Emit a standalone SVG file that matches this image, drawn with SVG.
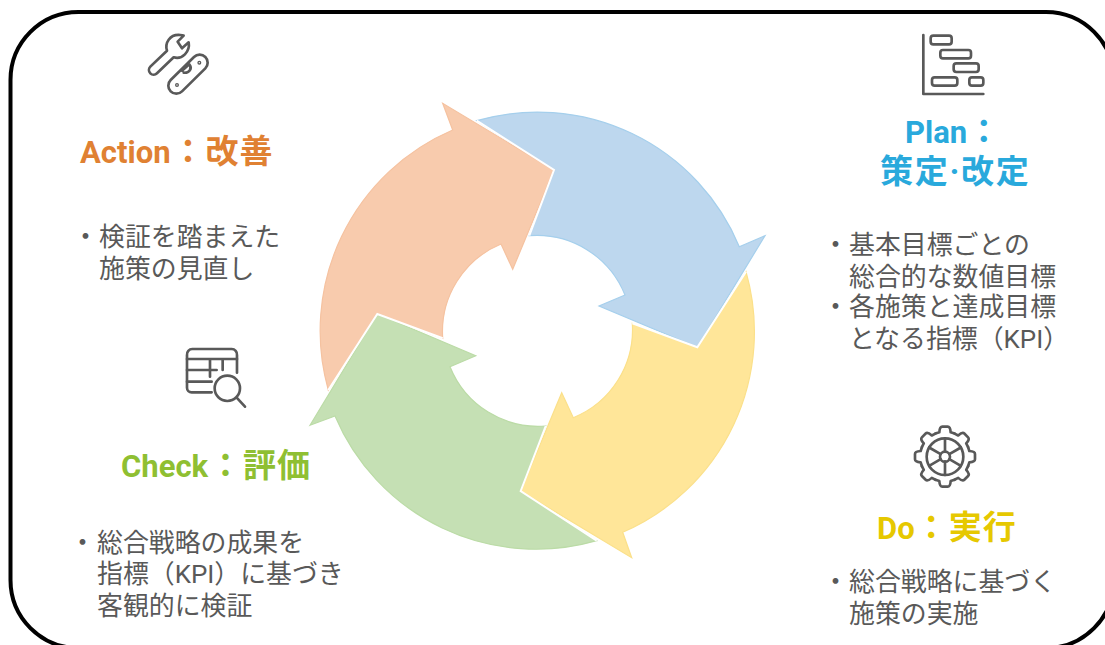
<svg xmlns="http://www.w3.org/2000/svg" xmlns:xlink="http://www.w3.org/1999/xlink" width="1105" height="645" viewBox="0 0 1105 645">
<style>
text{font-family:Roboto,"Noto Sans CJK JP",sans-serif}
.t{font-size:31px;font-weight:700}
.c{font-size:33px;letter-spacing:1px}
.b{font-size:25.9px;fill:#595959}
.bl{font-size:27px;fill:#595959;font-family:"Noto Sans CJK JP",sans-serif}
.i{fill:none;stroke:#595959;stroke-width:8;stroke-linecap:round;stroke-linejoin:round}
.a{stroke-width:1.2;stroke-linejoin:miter}
.seam{fill:none;stroke:#fff;stroke-width:2;stroke-linejoin:miter}
</style>
<defs>
<path id="tooth" d="M-28.7 -69.3L-17 -73Q-16 -90 -8 -90H8Q16 -90 17 -73L28.7 -69.3"/>
</defs>
<rect id="frame" x="10.5" y="12" width="1103.5" height="636" rx="68" ry="68" fill="#fff" stroke="#000" stroke-width="4"/>
<g id="connectors">
<path id="arrow-plan" class="a" fill="#BDD7EE" stroke="#A5CFEC" d="M476.7 120.7A218.5 218.5 0 0 1 739.3 246.7L765 235.7L697.3 347.3L599 306L625 295A95 95 0 0 0 529.3 235.7L554 170Z"/>
<path id="arrow-action" class="a" fill="#F8CBAD" stroke="#F5C2A0" d="M328.3 390A218.5 218.5 0 0 1 452.7 130L442.7 103.3L554 170L512.7 269.3L501 244A95 95 0 0 0 442.7 338.3L377.3 314Z"/>
<path id="arrow-check" class="a" fill="#C5E0B4" stroke="#BBDBA6" d="M310 425.3L335 416A218.5 218.5 0 0 0 596.7 540.7L520.7 491L545.7 426A95 95 0 0 1 450 366.7L475.7 355.7L377.3 314Z"/>
<path id="arrow-do" class="a" fill="#FFE699" stroke="#FBE08A" d="M746 271.7A218.5 218.5 0 0 1 622.7 532.3L631.7 557.7L520.7 491L561.7 392.7L573.3 417.7A95 95 0 0 0 632.3 323.3L697.3 347.3Z"/>
<path class="seam" d="M476.7 120.7L554 170L529.3 235.7M746 271.7L697.3 347.3L632.3 323.3M596.7 540.7L520.7 491L545.7 426M328.3 390L377.3 314L442.7 338.3"/>
</g>
<g id="node-action">
<g transform="translate(132 20) scale(.3333)" class="i">
<path d="M105 92C98 70 112 42 145 45L155 47L137 65L150 85L170 67C175 95 150 120 125 112L75 160A14 14 0 0 1 55 140Z"/>
<path d="M116 180L186 111A24 24 0 0 1 220 145L150 214A24 24 0 0 1 116 180Z"/>
<path d="M150 152L172 133C182 145 172 160 155 158"/>
<circle cx="135" cy="195" r="2"/><circle cx="202" cy="128" r="2"/>
</g>
<text class="t" x="80" y="162.5" fill="#E08132">Action<tspan class="c" dx="1">：改善</tspan></text>
<text class="bl" x="72" y="246">・</text>
<text class="b" x="99" y="246">検証を踏まえた</text>
<text class="b" x="99" y="278">施策の見直し</text>
</g>
<g id="node-plan">
<g transform="translate(905 20) scale(.3333)" class="i">
<path d="M55 45V222H235"/>
<rect x="77" y="47" width="63" height="26" rx="8"/>
<rect x="106" y="90" width="92" height="25" rx="8"/>
<rect x="146" y="130" width="75" height="26" rx="8"/>
<rect x="81" y="172" width="76" height="25" rx="8"/>
<rect x="193" y="172" width="42" height="25" rx="8"/>
</g>
<text class="t" x="905" y="143" fill="#29A9DC">Plan<tspan class="c">：</tspan></text>
<text class="t c" x="880" y="182.5" fill="#29A9DC" style="letter-spacing:1.7px">策定·改定</text>
<text class="bl" x="822" y="254">・</text>
<text class="b" x="849" y="254">基本目標ごとの</text>
<text class="b" x="849" y="286">総合的な数値目標</text>
<text class="bl" x="822" y="316">・</text>
<text class="b" x="849" y="316">各施策と達成目標</text>
<text class="b" x="849" y="348">となる指標（KPI）</text>
</g>
<g id="node-check">
<g transform="translate(170 335) scale(.3333)" class="i">
<path d="M125 172H65A14 14 0 0 1 51 158V60A16 16 0 0 1 67 42H185A16 16 0 0 1 201 60V113"/>
<path d="M51 72H201M51 105H140M51 140H125M120 72V125M158 72V105"/>
<circle cx="172" cy="160" r="38"/>
<path d="M200 188L225 215"/>
</g>
<text class="t" x="121" y="476.5" fill="#8FBF32">Check<tspan class="c" dx="1">：評価</tspan></text>
<text class="bl" x="69" y="552">・</text>
<text class="b" x="97" y="552">総合戦略の成果を</text>
<text class="b" x="97" y="583">指標（KPI）に基づき</text>
<text class="b" x="97" y="615">客観的に検証</text>
</g>
<g id="node-do">
<g transform="translate(900 415) scale(.3333)" class="i">
<g transform="translate(135 125)">
<use xlink:href="#tooth" href="#tooth"/>
<use href="#tooth" transform="rotate(45)"/>
<use href="#tooth" transform="rotate(90)"/>
<use href="#tooth" transform="rotate(135)"/>
<use href="#tooth" transform="rotate(180)"/>
<use href="#tooth" transform="rotate(225)"/>
<use href="#tooth" transform="rotate(270)"/>
<use href="#tooth" transform="rotate(315)"/>
<circle r="55"/><circle r="15"/>
<path d="M0 -15V-55M0 15V55M13 -7.5L47.6 -27.5M-13 -7.5L-47.6 -27.5M13 7.5L47.6 27.5M-13 7.5L-47.6 27.5"/>
</g>
</g>
<text class="t" x="877" y="538.5" fill="#E6C800">Do<tspan class="c">：実行</tspan></text>
<text class="bl" x="822" y="591">・</text>
<text class="b" x="849" y="591">総合戦略に基づく</text>
<text class="b" x="849" y="623">施策の実施</text>
</g>
</svg>
